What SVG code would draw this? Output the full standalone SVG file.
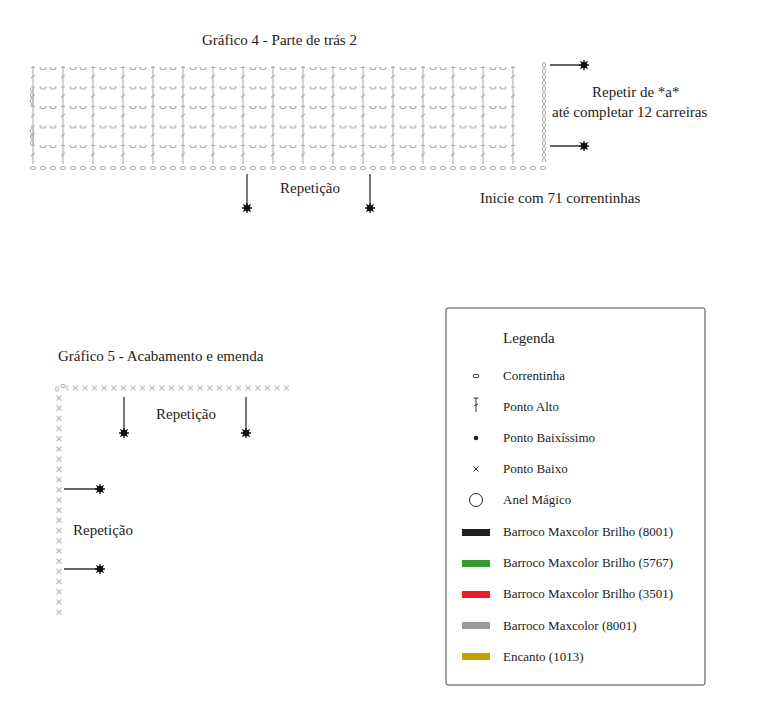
<svg xmlns="http://www.w3.org/2000/svg" width="768" height="708" viewBox="0 0 768 708">
<style>
text{font-family:"Liberation Serif",serif;fill:#222}
.t{font-size:15px}.l{font-size:13px}
.g{stroke:#aaa;fill:none;stroke-width:1}
.k{stroke:#333;stroke-width:1.3;fill:none}
</style>
<defs>
<pattern id="dc" x="33" y="67" width="30" height="19.5" patternUnits="userSpaceOnUse">
<line x1="0" y1="0" x2="0" y2="19.5" class="g"/><line x1="-2" y1="0.5" x2="2" y2="0.5" class="g"/><line x1="-2" y1="11" x2="2" y2="8" class="g"/>
<line x1="28" y1="0.5" x2="32" y2="0.5" class="g"/><line x1="28" y1="11" x2="32" y2="8" class="g"/><line x1="30" y1="0" x2="30" y2="19.5" class="g"/>
<ellipse cx="10" cy="1" rx="3" ry="1.5" class="g"/><ellipse cx="20" cy="1" rx="3" ry="1.5" class="g"/>
</pattern>
<pattern id="ch" x="28" y="160" width="10" height="16" patternUnits="userSpaceOnUse"><ellipse cx="5" cy="8" rx="3" ry="1.5" class="g"/></pattern>
<pattern id="chv" x="540" y="62" width="8" height="6" patternUnits="userSpaceOnUse"><ellipse cx="4" cy="3" rx="1.5" ry="2.6" class="g"/></pattern>
<pattern id="xh" x="80" y="383" width="9.6" height="10" patternUnits="userSpaceOnUse"><path d="M2.5 2.5l5 5M7.5 2.5l-5 5" class="g"/></pattern>
<pattern id="xv" x="54" y="393" width="10" height="10.2" patternUnits="userSpaceOnUse"><path d="M2.5 2.5l5 5M7.5 2.5l-5 5" class="g"/></pattern>
<g id="star"><circle r="3.2" fill="#111"/><path d="M-5 0H5M0-5V5M-3.6-3.6L3.6 3.6M3.6-3.6L-3.6 3.6" stroke="#111" stroke-width="1.3"/></g>
</defs>
<text x="202" y="45" class="t">Gráfico 4 - Parte de trás 2</text>
<g id="chart4">
<rect x="30" y="66" width="487" height="98" fill="url(#dc)"/>
<rect x="28" y="160" width="520" height="16" fill="url(#ch)"/>
<rect x="540" y="62" width="8" height="100" fill="url(#chv)"/>
<rect x="29" y="88" width="8" height="18" fill="url(#chv)"/>
<rect x="29" y="127" width="8" height="18" fill="url(#chv)"/>
</g>
<g id="connectors">
<path d="M550 65H580M550 146H580M247 174V207M370 174V207M124 397V432M246 397V432M64 489H98M64 569H98" class="k"/>
</g>
<g id="stars">
<use href="#star" x="584" y="65"/><use href="#star" x="584" y="146"/>
<use href="#star" x="247" y="208"/><use href="#star" x="370" y="208"/>
<use href="#star" x="124" y="433"/><use href="#star" x="246" y="433"/>
<use href="#star" x="100" y="489"/><use href="#star" x="100" y="569"/>
</g>
<text x="592" y="97" class="t">Repetir de *a*</text>
<text x="552" y="117" class="t">até completar 12 carreiras</text>
<text x="280" y="193" class="t">Repetição</text>
<text x="480" y="203" class="t">Inicie com 71 correntinhas</text>
<text x="58" y="361" class="t">Gráfico 5 - Acabamento e emenda</text>
<g id="chart5">
<text x="55" y="392" font-size="8" fill="#999" style="fill:#999">0</text>
<ellipse cx="63" cy="386" rx="2.5" ry="1.5" class="g"/>
<rect x="66" y="383" width="226" height="10" fill="url(#xh)"/>
<rect x="54" y="393" width="10" height="225" fill="url(#xv)"/>
</g>
<text x="156" y="419" class="t">Repetição</text>
<text x="73" y="535" class="t">Repetição</text>
<g id="legend">
<rect x="446" y="308" width="259" height="377" fill="#fff" stroke="#444" rx="2"/>
<text x="503" y="343" class="t">Legenda</text>
<ellipse cx="476" cy="376" rx="3" ry="1.7" fill="none" stroke="#333"/>
<path d="M476 398V412M473.5 398H478.5M474 406L478 404" stroke="#333" fill="none"/>
<circle cx="476" cy="438" r="2.3" fill="#222"/>
<path d="M473.5 466.5l5 5M478.5 466.5l-5 5" stroke="#333"/>
<circle cx="476" cy="500" r="6.5" fill="none" stroke="#222"/>
<rect x="462" y="529" width="28" height="7" fill="#1f1f1f"/>
<rect x="462" y="560" width="28" height="7" fill="#3a9a32"/>
<rect x="462" y="591" width="28" height="7" fill="#ee1c24"/>
<rect x="462" y="622" width="28" height="7" fill="#999"/>
<rect x="462" y="653" width="28" height="7" fill="#c2a000"/>
<text x="503" y="380" class="l">Correntinha</text>
<text x="503" y="411" class="l">Ponto Alto</text>
<text x="503" y="442" class="l">Ponto Baixíssimo</text>
<text x="503" y="473" class="l">Ponto Baixo</text>
<text x="503" y="504" class="l">Anel Mágico</text>
<text x="503" y="536" class="l">Barroco Maxcolor Brilho (8001)</text>
<text x="503" y="567" class="l">Barroco Maxcolor Brilho (5767)</text>
<text x="503" y="598" class="l">Barroco Maxcolor Brilho (3501)</text>
<text x="503" y="630" class="l">Barroco Maxcolor (8001)</text>
<text x="503" y="661" class="l">Encanto (1013)</text>
</g>
</svg>
